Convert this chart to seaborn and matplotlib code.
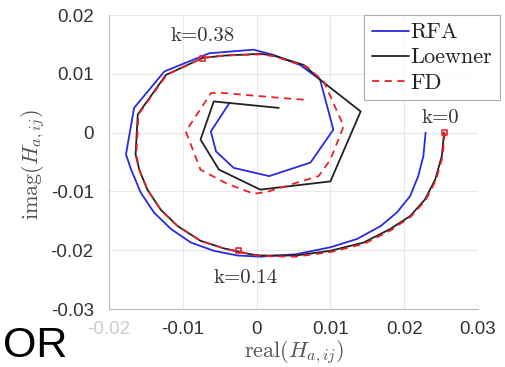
import matplotlib
matplotlib.use("Agg")
import matplotlib.pyplot as plt
import seaborn as sns
import pandas as pd

# ---------------- data ----------------
rfa_x = [0.0229, 0.0226, 0.0219, 0.0208, 0.0190, 0.0168, 0.0136, 0.0100, 0.0053, 0.0005,
         -0.0026, -0.0058, -0.0089, -0.0116, -0.0139, -0.0157, -0.0170, -0.0177, -0.0166, -0.0125,
         -0.0064, -0.0004, 0.0023, 0.0059, 0.0086, 0.0104, 0.0073, 0.0017, -0.0031, -0.0055,
         -0.0062, -0.0037]
rfa_y = [0.0000, -0.0040, -0.0074, -0.0108, -0.0136, -0.0159, -0.0181, -0.0195, -0.0207, -0.0211,
         -0.0209, -0.0201, -0.0187, -0.0164, -0.0136, -0.0102, -0.0063, -0.0037, 0.0042, 0.0104,
         0.0135, 0.0141, 0.0132, 0.0115, 0.0090, 0.0005, -0.0051, -0.0074, -0.0060, -0.0032,
         0.0002, 0.0050]

loe_x = [0.0254, 0.0251, 0.0242, 0.0228, 0.0208, 0.0181, 0.0145, 0.0100, 0.0053, 0.0005,
         -0.0008, -0.0044, -0.0076, -0.0107, -0.0130, -0.0148, -0.0159, -0.0164, -0.0161, -0.0123,
         -0.0073, -0.0044, 0.0005, 0.0023, 0.0064, 0.0089, 0.0141, 0.0100, 0.0005, -0.0051,
         -0.0076, -0.0058, 0.0030]
loe_y = [0.0000, -0.0040, -0.0080, -0.0114, -0.0142, -0.0164, -0.0187, -0.0201, -0.0209, -0.0209,
         -0.0207, -0.0197, -0.0184, -0.0159, -0.0131, -0.0097, -0.0063, -0.0037, 0.0031, 0.0098,
         0.0127, 0.0131, 0.0134, 0.0131, 0.0115, 0.0087, 0.0036, -0.0083, -0.0097, -0.0063,
         -0.0012, 0.0053, 0.0042]

fd_x = [0.0255, 0.0252, 0.0243, 0.0229, 0.0209, 0.0182, 0.0146, 0.0101, 0.0053, 0.0005,
        -0.0008, -0.0044, -0.0076, -0.0107, -0.0130, -0.0148, -0.0159, -0.0163, -0.0160, -0.0122,
        -0.0073, -0.0044, 0.0005, 0.0023, 0.0068, 0.0091, 0.0118, 0.0100, 0.0084, 0.0055,
        0.0014, -0.0004, -0.0040, -0.0076, -0.0096, -0.0062, -0.0051, 0.0032, 0.0064]
fd_y = [0.0000, -0.0041, -0.0081, -0.0115, -0.0143, -0.0166, -0.0189, -0.0203, -0.0211, -0.0210,
        -0.0207, -0.0197, -0.0184, -0.0159, -0.0131, -0.0097, -0.0063, -0.0037, 0.0031, 0.0098,
        0.0127, 0.0131, 0.0133, 0.0130, 0.0112, 0.0087, 0.0011, -0.0046, -0.0074, -0.0085,
        -0.0101, -0.0104, -0.0087, -0.0063, 0.0002, 0.0067, 0.0068, 0.0059, 0.0056]

mark_x = [0.0255, -0.0073, -0.0024]
mark_y = [0.0000, 0.0126, -0.0200]
mark_labels = ["k=0", "k=0.38", "k=0.14"]
label_x = [0.0249, -0.0073, -0.0015]
label_y = [0.0024, 0.0165, -0.0247]

xticks = [-0.02, -0.01, 0.0, 0.01, 0.02, 0.03]
xticklabels = ["-0.02", "-0.01", "0", "0.01", "0.02", "0.03"]
yticks = [-0.03, -0.02, -0.01, 0.0, 0.01, 0.02]
yticklabels = ["-0.03", "-0.02", "-0.01", "0", "0.01", "0.02"]

series_names = ["RFA", "Loewner", "FD"]

# ---------------- plot ----------------
sns.set_theme(style="white")
plt.rcParams["font.family"] = ["Liberation Sans", "DejaVu Sans"]
plt.rcParams["mathtext.fontset"] = "cm"

fig = plt.figure(figsize=(5.05, 3.67), dpi=100)
ax = fig.add_axes([109 / 505, 1 - 309 / 367, (478 - 109) / 505, (309 - 15) / 367])

df_rfa = pd.DataFrame({"x": rfa_x, "y": rfa_y})
df_loe = pd.DataFrame({"x": loe_x, "y": loe_y})
df_fd = pd.DataFrame({"x": fd_x, "y": fd_y})

sns.lineplot(data=df_rfa, x="x", y="y", sort=False, estimator=None, ax=ax,
             color="#2a2ae0", lw=1.3, label=series_names[0])
sns.lineplot(data=df_loe, x="x", y="y", sort=False, estimator=None, ax=ax,
             color="#222222", lw=1.3, label=series_names[1])
sns.lineplot(data=df_fd, x="x", y="y", sort=False, estimator=None, ax=ax,
             color="#e8222a", lw=1.3, label=series_names[2])
ax.lines[2].set_dashes([4, 3])

sns.scatterplot(x=mark_x, y=mark_y, ax=ax, marker="s", s=14, facecolor="none",
                edgecolor="#e8222a", linewidth=1.2, zorder=5)

for lx, ly, t in zip(label_x, label_y, mark_labels):
    ax.text(lx, ly, t, fontsize=15, family="cmr10",
            ha="center", va="center", color="#333333")

ax.set_xlim(-0.02, 0.03)
ax.set_ylim(-0.03, 0.02)
ax.set_xticks(xticks)
ax.set_xticklabels(xticklabels)
ax.set_yticks(yticks)
ax.set_yticklabels(yticklabels)
ax.tick_params(axis="both", labelsize=13.5, colors="#333333", length=3, direction="in")
ax.tick_params(axis="x", pad=9)
ax.tick_params(axis="y", pad=11)
ax.xaxis.get_ticklabels()[0].set_color("#cccccc")
ax.grid(True, color="#e8e8e8", lw=0.8)
for s in ["top", "right"]:
    ax.spines[s].set_visible(False)
for s in ["left", "bottom"]:
    ax.spines[s].set_color("#bbbbbb")
    ax.spines[s].set_linewidth(0.8)

ax.set_xlabel(r"$\mathrm{real}(H_{a,ij})$", fontsize=16, color="#555555", labelpad=0)
ax.set_ylabel(r"$\mathrm{imag}(H_{a,ij})$", fontsize=16, color="#555555")
ax.yaxis.set_label_coords(-0.168, 0.49)

leg = ax.legend(loc="upper right", bbox_to_anchor=((500 - 109) / 369, (309 - 15) / 294),
                prop={"family": "cmr10", "size": 16},
                handlelength=1.7, handletextpad=0.05, borderpad=0.35, labelspacing=0.25,
                frameon=True, fancybox=False, borderaxespad=0)
leg.get_frame().set_edgecolor("#999999")
leg.get_frame().set_linewidth(0.8)
for t in leg.get_texts():
    t.set_color("#222222")

fig.text(3 / 505, 1 - 357 / 367, "OR", fontsize=31, color="black", ha="left",
         va="baseline", family="Liberation Sans")

fig.savefig("out.png", dpi=100)
